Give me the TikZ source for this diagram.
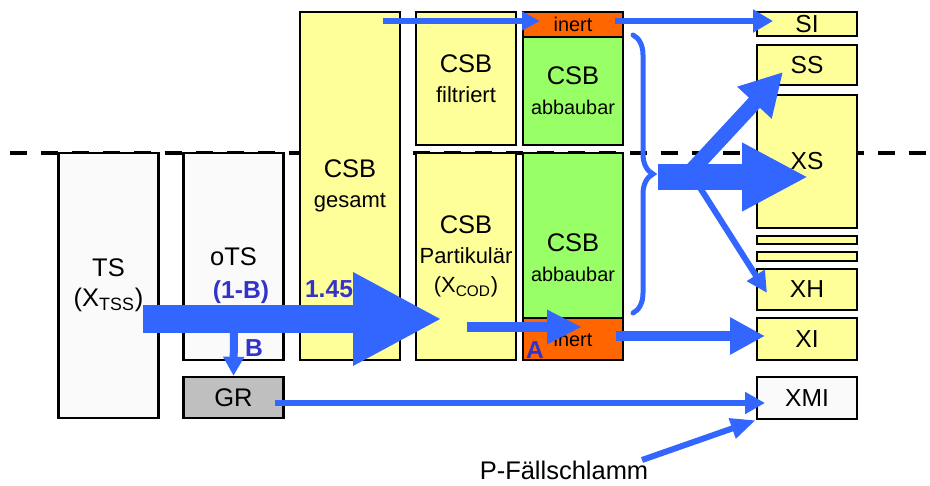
\documentclass[tikz,border=0pt]{standalone}
\usepackage{fontspec}
\setmainfont{Liberation Sans}
\usetikzlibrary{arrows.meta,decorations.pathreplacing}

\definecolor{csbyellow}{HTML}{FFFF99}
\definecolor{csbgreen}{HTML}{99FF66}
\definecolor{csborange}{HTML}{FF6600}
\definecolor{flowblue}{HTML}{3366FF}
\definecolor{coefblue}{HTML}{3333CC}
\definecolor{grgray}{HTML}{BFBFBF}

\newcommand\csbsub[1]{{\fontsize{12.5}{15}\selectfont #1}}
\newcommand\csbsmall[1]{{\fontsize{11.3}{14}\selectfont #1}}

\begin{document}
\begin{tikzpicture}[x=0.02cm,y=-0.02cm,
  every node/.style={font=\fontsize{14.5}{17}\selectfont},
  box/.style={draw,line width=1.4pt,minimum width=2cm,inner sep=0pt,align=center},
  flow/.style={draw=flowblue,line cap=butt},
  coef/.style={text=coefblue,inner sep=0pt,font=\bfseries\fontsize{14}{16}\selectfont}]
\useasboundingbox (0,0) rectangle (930,486);
% level line
\draw[line width=2.8pt,dash pattern=on 0.34cm off 0.28cm] (10,153) -- (930,153);
% input fractions
\node[box,fill=black!2,minimum height=5.3cm] (ts) at (108.5,285.5) {TS\\(X\textsubscript{TSS})};
\node[box,fill=black!2,minimum height=4.14cm] (ots) at (233.5,256.5) {oTS};
\node[box,fill=grgray,minimum height=0.82cm] (gr) at (233.5,397.5) {GR};
% COD fractions
\node[box,fill=csbyellow,minimum height=6.96cm] (ges) at (350,186) {CSB\\\csbsub{gesamt}};
\node[box,fill=csbyellow,minimum height=2.66cm] (filt) at (466,78.5) {CSB\\\csbsub{filtriert}};
\node[box,fill=csbyellow,minimum height=4.14cm] (part) at (466,256.5) {CSB\\\csbsub{Partikulär}\\\csbsub{(X\textsubscript{COD})}};
\node[box,fill=csborange,minimum height=0.5cm] (inerttop) at (573,24.5) {\csbsmall{inert}};
\node[box,fill=csbgreen,minimum height=2.16cm] (abbtop) at (573,91) {CSB\\\csbsmall{abbaubar}};
\node[box,fill=csbgreen,minimum height=3.3cm] (abbbot) at (573,235.5) {};
\node[align=center] (abbbottxt) at (573,258) {CSB\\\csbsmall{abbaubar}};
\node[box,fill=csborange,minimum height=0.84cm] (inertbot) at (573,339) {\csbsmall{inert}};
% model fractions
\begin{scope}[every node/.style={font=\fontsize{14}{16}\selectfont}]
\node[box,fill=csbyellow,minimum height=0.48cm] (si) at (807,24) {SI};
\node[box,fill=csbyellow,minimum height=0.8cm] (ss) at (807,65) {SS};
\node[box,fill=csbyellow,minimum height=2.66cm] (xs) at (807,161.5) {XS};
\node[box,fill=csbyellow,minimum height=0.16cm] (bar1) at (807,240) {};
\node[box,fill=csbyellow,minimum height=0.18cm] (bar2) at (807,256.5) {};
\node[box,fill=csbyellow,minimum height=0.82cm] (xh) at (807,289.5) {XH};
\node[box,fill=csbyellow,minimum height=0.84cm] (xi) at (807,339) {XI};
\node[box,fill=black!2,minimum height=0.84cm] (xmi) at (807,398) {XMI};
\end{scope}
\node (pfs) at (564,470) {P-Fällschlamm};

% free ends of the flows
\coordinate (tssout) at (143,319);
\coordinate (partin) at (442,319);
\coordinate (split) at (234,330);
\coordinate (top0) at (383,21);
\coordinate (top1) at (540,21);
\coordinate (top2) at (615,21);
\coordinate (top3) at (773,21);
\coordinate (a0) at (467,327);
\coordinate (a1) at (582,327);
\coordinate (xi0) at (616,336);
\coordinate (xi1) at (765,336);
\coordinate (br0) at (633,35);
\coordinate (br1) at (633,313);
\coordinate (fan) at (658,177);
\coordinate (xsin) at (808,177);
\coordinate (ss0) at (692,170);
\coordinate (ssin) at (783,72);
\coordinate (xh0) at (697,183);
\coordinate (xhin) at (767,293);
\coordinate (gr0) at (275,403);
\coordinate (xmiin) at (765,403);
\coordinate (pfsout) at (642,460);

% flows
\draw[flow,line width=0.58cm,-{Triangle[length=1.78cm,width=1.74cm]}] (tssout) -- (partin);
\draw[flow,line width=0.16cm,-{Triangle[length=0.38cm,width=0.4cm]}] (split) -- (gr.north);
\draw[flow,line width=0.12cm,-{Triangle[length=0.36cm,width=0.36cm]}] (top0) -- (top1);
\draw[flow,line width=0.12cm,-{Triangle[length=0.4cm,width=0.44cm]}] (top2) -- (top3);
\draw[flow,line width=0.22cm,-{Triangle[length=0.7cm,width=0.64cm]}] (a0) -- (a1);
\draw[flow,line width=0.22cm,-{Triangle[length=0.7cm,width=0.7cm]}] (xi0) -- (xi1);
\draw[flow,line width=0.1cm,line cap=round,decorate,decoration={brace,amplitude=0.4cm}] (br0) -- (br1);
\draw[flow,line width=0.3cm,-{Triangle[length=0.84cm,width=0.88cm]}] (ss0) -- (ssin);
\draw[flow,line width=0.12cm,-{Triangle[length=0.42cm,width=0.4cm]}] (xh0) -- (xhin);
\draw[flow,line width=0.52cm,-{Triangle[length=1.32cm,width=1.28cm]}] (fan) -- (xsin);
\draw[flow,line width=0.12cm,-{Triangle[length=0.4cm,width=0.42cm]}] (gr0) -- (xmiin);
\draw[flow,line width=0.12cm,-{Triangle[length=0.5cm,width=0.4cm]}] (pfsout) -- (xmi.south west);

% factors
\node[coef] (fb1) at (241,292) {(1-B)};
\node[coef] (fb) at (254,348) {B};
\node[coef] (f145) at (329,289) {1.45};
\node[coef] (fa) at (535,350) {A};
\end{tikzpicture}
\end{document}
